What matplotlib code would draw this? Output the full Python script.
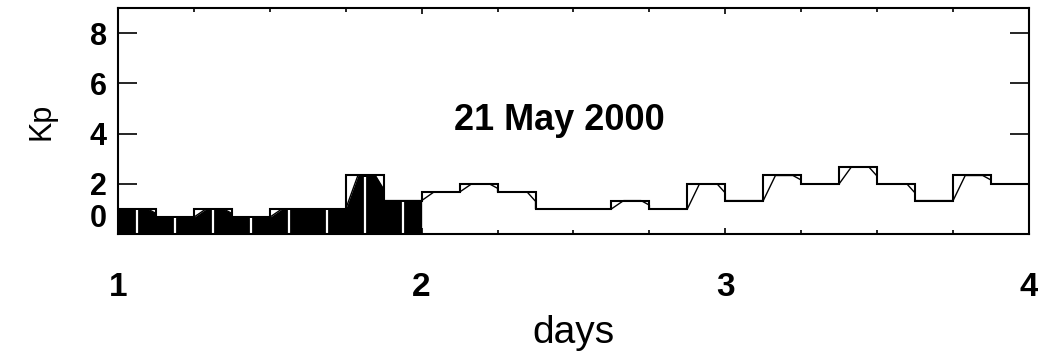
import numpy as np
import matplotlib
matplotlib.use('Agg')
import matplotlib.pyplot as plt
from matplotlib.ticker import MultipleLocator

plt.rcParams['font.family'] = 'Liberation Sans'

# Kp, 3-hour bins, 3 days (day 1 filled)
kp_day1 = [1.0, 0.67, 1.0, 0.67, 1.0, 1.0, 2.33, 1.33]
kp_day2 = [1.67, 2.0, 1.67, 1.0, 1.0, 1.33, 1.0, 2.0]
kp_day3 = [1.33, 2.33, 2.0, 2.67, 2.0, 1.33, 2.33, 2.0]
start_day = 1.0
bin_w = 0.125  # 3 h in days

kp = np.array(kp_day1 + kp_day2 + kp_day3)
edges = start_day + bin_w * np.arange(len(kp) + 1)

# smoothed trace: rises lag after a boundary, drops lead before it
lx, ly = [edges[0]], [kp[0]]
for i in range(1, len(kp)):
    t, a, b = edges[i], kp[i - 1], kp[i]
    if b > a:
        lx += [t, t + 0.32 * bin_w]
        ly += [a, b]
    elif b < a:
        lx += [t - 0.22 * bin_w, t, t]
        ly += [a, a - 0.55 * (a - b), b]
lx.append(edges[-1])
ly.append(kp[-1])
lx, ly = np.array(lx), np.array(ly)

fig = plt.figure(figsize=(10.38, 3.53), dpi=100)
ax = fig.add_axes([118 / 1038, 1 - 234 / 353, 911 / 1038, 226 / 353])

# filled first day
m = lx <= start_day + 1 + 1e-9
ax.fill_between(lx[m], 0, ly[m], color='black', lw=0)
mids = edges[:8] + bin_w / 2
ax.vlines(mids, 0, np.interp(mids, lx, ly) - 0.05, color='white', lw=1.6)

ax.plot(lx, ly, color='black', lw=1.0)
ax.stairs(kp, edges, color='black', lw=1.5, baseline=None)

ax.set_xlim(1, 4)
ax.set_ylim(0, 9)
ax.set_xticks([1, 2, 3, 4])
ax.xaxis.set_minor_locator(MultipleLocator(0.25))
ax.set_yticks([0, 2, 4, 6, 8])
ax.tick_params(axis='x', which='major', direction='in', top=True, length=4.5, width=1.2,
               labelsize=24, pad=27)
ax.tick_params(axis='x', which='minor', direction='in', top=True, length=3, width=1.2)
ax.tick_params(axis='y', direction='in', right=True, length=13.5, width=1.2,
               labelsize=22, pad=8)
for lab in ax.get_xticklabels() + ax.get_yticklabels():
    lab.set_fontweight('bold')
ax.get_yticklabels()[0].set_verticalalignment('bottom')
for s in ax.spines.values():
    s.set_linewidth(1.5)

ax.set_xlabel('days', fontsize=28, labelpad=9)
ax.set_ylabel('Kp', fontsize=22, labelpad=24)
ax.text(0.485, 0.46, '21 May 2000', transform=ax.transAxes, ha='center', va='baseline',
        fontsize=26, fontweight='bold')

fig.savefig('out.png', dpi=100)
